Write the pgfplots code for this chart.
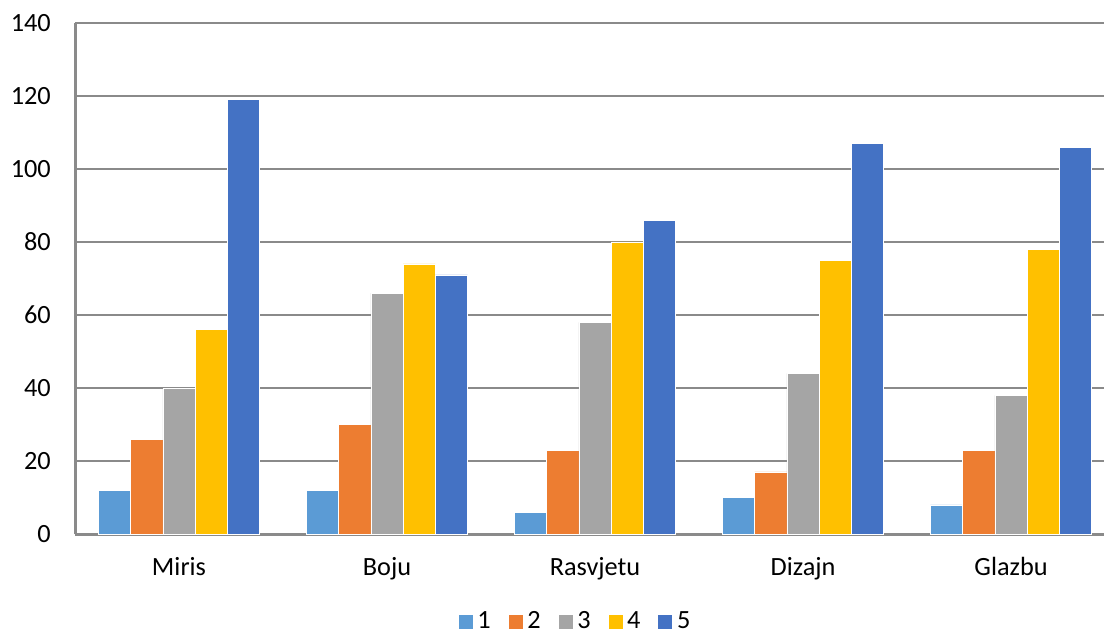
\documentclass[border=0pt]{standalone}
\usepackage{pgfplots}
\pgfplotsset{compat=1.18}
\usepackage{fontspec}
\setmainfont{Carlito}
\definecolor{c1}{HTML}{5B9BD5}
\definecolor{c2}{HTML}{ED7D31}
\definecolor{c3}{HTML}{A5A5A5}
\definecolor{c4}{HTML}{FFC000}
\definecolor{c5}{HTML}{4472C4}
\definecolor{gridc}{HTML}{8A8A8A}
\begin{document}
\begin{tikzpicture}
\begin{axis}[name=ax, scale only axis, width=514.5bp, height=255.5bp,
  xmin=-0.5, xmax=4.447, ymin=0, ymax=140, enlargelimits=false,
  ytick={0,20,...,140},
  xtick={0,1,2,3,4}, xticklabels={Miris,Boju,Rasvjetu,Dizajn,Glazbu},
  ybar=0pt, bar width=0.155,
  axis lines=left, axis line style={-, draw=gridc, line width=1.5bp},
  ymajorgrids, grid style={draw=gridc, line width=1bp},
  major tick length=0,
  tick label style={font=\fontsize{13.2}{16}\selectfont, /pgf/number format/assume math mode=true},
  xticklabel style={yshift=-8bp},
  yticklabel style={xshift=-8.6bp},
  legend columns=5,
  legend style={at={(0.487,-0.172)}, anchor=center, draw=none, fill=none,
    font=\fontsize{13.2}{16}\selectfont,
    /tikz/every even column/.append style={column sep=6.5bp}},
  legend image code/.code={\fill[#1] (0bp,-3.75bp) rectangle (7.5bp,3.75bp);},
  every axis plot/.append style={draw=white, line width=0.3bp},
]
\addplot[fill=c1] coordinates {(0,12) (1,12) (2,6) (3,10) (4,8)};
\addplot[fill=c2] coordinates {(0,26) (1,30) (2,23) (3,17) (4,23)};
\addplot[fill=c3] coordinates {(0,40) (1,66) (2,58) (3,44) (4,38)};
\addplot[fill=c4] coordinates {(0,56) (1,74) (2,80) (3,75) (4,78)};
\addplot[fill=c5] coordinates {(0,119) (1,71) (2,86) (3,107) (4,106)};
\legend{1,2,3,4,5}
\end{axis}
\pgfresetboundingbox
\useasboundingbox ([shift={(-37.5bp,-50.5bp)}]ax.south west) rectangle ([shift={(0bp,11.5bp)}]ax.north east);
\end{tikzpicture}
\end{document}
